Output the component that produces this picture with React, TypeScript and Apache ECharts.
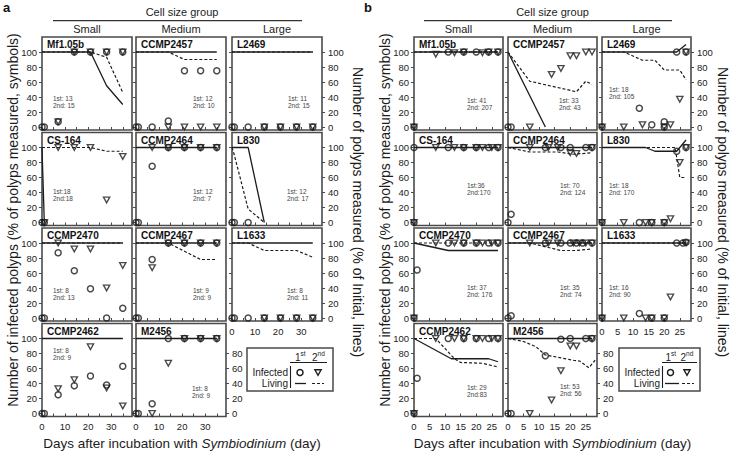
import React, { useEffect, useRef } from 'react';
import * as echarts from 'echarts';

// ---------------- Panel a data (day, %) ----------------
const aMf105bInf1 = [[0, 0], [1, 0], [7, 7], [14, 100], [21, 100], [28, 100], [35, 100]];
const aMf105bInf2 = [[7, 7], [14, 100], [21, 100], [28, 100], [35, 100]];
const aMf105bLiv1 = [[0, 100], [21, 100], [28, 55], [35, 30]];
const aMf105bLiv2 = [[0, 100], [21, 100], [28, 93], [35, 46]];

const aCCMP2457Inf1 = [[0, 0], [1, 0], [7, 0], [14, 8], [21, 75], [28, 75], [35, 75]];
const aCCMP2457Inf2 = [[14, 0], [21, 0], [28, 0], [35, 0]];
const aCCMP2457Liv1 = [[0, 100], [35, 100]];
const aCCMP2457Liv2 = [[0, 100], [14, 100], [21, 90], [35, 90]];

const aL2469Inf1 = [[0, 0], [1, 0], [7, 0], [14, 0], [21, 0], [28, 0], [35, 0]];
const aL2469Inf2 = [[14, 0], [21, 0], [28, 0], [35, 0]];
const aL2469Liv1 = [[0, 100], [35, 100]];
const aL2469Liv2 = [[0, 100], [35, 100]];

const aCS164Inf1 = [[0, 0], [1, 0]];
const aCS164Inf2 = [[1, 0], [7, 100], [14, 100], [21, 100], [28, 30], [35, 88]];
const aCS164Liv1 = [[0, 100], [1, 0]];
const aCS164Liv2 = [[0, 100], [21, 100], [28, 95], [35, 95]];

const aCCMP2464Inf1 = [[0, 0], [1, 0], [7, 75], [14, 100], [21, 100], [28, 100], [35, 100]];
const aCCMP2464Inf2 = [[7, 100], [14, 100], [21, 100], [28, 100], [35, 100]];
const aCCMP2464Liv1 = [[0, 100], [35, 100]];
const aCCMP2464Liv2 = [[0, 100], [35, 100]];

const aL830Inf1 = [[0, 0], [1, 0], [7, 0]];
const aL830Inf2: number[][] = [];
const aL830Liv1 = [[0, 100], [7, 100], [14, 0]];
const aL830Liv2 = [[0, 100], [1, 90], [7, 18], [14, 0]];

const aCCMP2470Inf1 = [[0, 0], [1, 0], [7, 87], [14, 63], [21, 39], [28, 0], [35, 13]];
const aCCMP2470Inf2 = [[7, 100], [14, 92], [21, 92], [28, 40], [35, 70]];
const aCCMP2470Liv1 = [[0, 100], [35, 100]];
const aCCMP2470Liv2 = [[0, 100], [35, 100]];

const aCCMP2467Inf1 = [[0, 0], [1, 0], [7, 78], [14, 100], [21, 100], [28, 100], [35, 100]];
const aCCMP2467Inf2 = [[7, 67], [14, 100], [21, 100], [28, 100], [35, 100]];
const aCCMP2467Liv1 = [[0, 100], [35, 100]];
const aCCMP2467Liv2 = [[0, 100], [14, 100], [28, 78], [35, 78]];

const aL1633Inf1 = [[0, 0], [1, 0], [7, 0], [14, 0], [21, 0], [28, 0], [35, 0]];
const aL1633Inf2 = [[14, 0], [21, 0], [28, 0], [35, 0]];
const aL1633Liv1 = [[0, 100], [35, 100]];
const aL1633Liv2 = [[0, 100], [7, 100], [14, 90], [28, 90], [35, 81]];

const aCCMP2462Inf1 = [[0, 0], [1, 0], [7, 25], [14, 37], [21, 50], [28, 38], [35, 63]];
const aCCMP2462Inf2 = [[7, 33], [14, 45], [21, 89], [28, 34], [35, 10]];
const aCCMP2462Liv1 = [[0, 100], [35, 100]];
const aCCMP2462Liv2 = [[0, 100], [35, 100]];

const aM2456Inf1 = [[0, 0], [1, 0], [7, 13], [14, 100], [21, 100], [28, 100], [35, 100]];
const aM2456Inf2 = [[7, 0], [14, 67], [21, 100], [28, 100], [35, 100]];
const aM2456Liv1 = [[0, 100], [35, 100]];
const aM2456Liv2 = [[0, 100], [35, 100]];

// ---------------- Panel b data (day, %) ----------------
const bMf105bInf1 = [[0, 0], [11, 100], [16, 100], [20, 100], [24, 100], [27, 100]];
const bMf105bInf2 = [[0, 0], [7, 97], [13, 99], [16, 100], [22, 99], [24, 100], [27, 100]];
const bMf105bLiv1 = [[0, 100], [27, 100]];
const bMf105bLiv2 = [[0, 100], [27, 100]];

const bCCMP2457Inf1 = [[0, 0], [1, 0]];
const bCCMP2457Inf2 = [[7, 0], [14, 70], [17, 78], [20, 95], [22, 95], [25, 100], [27, 100]];
const bCCMP2457Liv1 = [[0, 100], [12, 0]];
const bCCMP2457Liv2 = [[0, 100], [7, 61], [22, 47], [25, 61], [27, 57]];

const bL2469Inf1 = [[0, 0], [12, 25], [16, 3], [20, 7], [20, 0], [24, 100], [27, 100]];
const bL2469Inf2 = [[0, 0], [7, 0], [13, 3], [20, 0], [22, 3], [25, 37], [27, 100]];
const bL2469Liv1 = [[0, 100], [24, 100], [27, 110]];
const bL2469Liv2 = [[0, 100], [7, 100], [13, 89], [17, 89], [20, 76], [25, 76], [27, 63]];

const bCS164Inf1 = [[0, 0], [0, 100], [11, 100], [16, 100], [20, 100], [24, 100], [27, 100]];
const bCS164Inf2 = [[0, 0], [7, 100], [13, 100], [16, 100], [20, 100], [22, 100], [25, 100], [27, 100]];
const bCS164Liv1 = [[0, 100], [27, 100]];
const bCS164Liv2 = [[0, 100], [27, 100]];

const bCCMP2464Inf1 = [[0, 0], [1, 11], [12, 100], [17, 100], [20, 100], [25, 100], [27, 100]];
const bCCMP2464Inf2 = [[7, 100], [13, 100], [16, 100], [20, 93], [22, 92], [27, 100]];
const bCCMP2464Liv1 = [[0, 100], [27, 100]];
const bCCMP2464Liv2 = [[0, 100], [7, 94], [16, 94], [21, 91], [27, 93]];

const bL830Inf1 = [[0, 0], [12, 0], [16, 0], [20, 0], [24, 95], [27, 100]];
const bL830Inf2 = [[0, 0], [7, 0], [14, 0], [16, 0], [20, 0], [22, 5], [25, 80], [27, 100]];
const bL830Liv1 = [[0, 100], [14, 100], [17, 95], [24, 95], [27, 110]];
const bL830Liv2 = [[0, 100], [23.5, 100], [25, 60], [27, 60]];

const bCCMP2470Inf1 = [[0, 0], [1, 64], [11, 100], [16, 100], [20, 100], [24, 100], [27, 100]];
const bCCMP2470Inf2 = [[0, 0], [7, 100], [13, 100], [16, 100], [20, 100], [22, 100], [25, 100], [27, 100]];
const bCCMP2470Liv1 = [[0, 100], [11, 90], [27, 90]];
const bCCMP2470Liv2 = [[0, 100], [27, 100]];

const bCCMP2467Inf1 = [[0, 0], [1, 3], [12, 100], [17, 100], [20, 100], [22, 100], [24, 100], [27, 100]];
const bCCMP2467Inf2 = [[7, 100], [13, 100], [16, 100], [21, 100], [23, 100], [25, 100], [27, 100]];
const bCCMP2467Liv1 = [[0, 100], [27, 100]];
const bCCMP2467Liv2 = [[0, 100], [7, 100], [17, 90], [22, 90], [27, 92]];

const bL1633Inf1 = [[0, 0], [12, 6], [16, 0], [20, 0], [24, 100], [26, 100], [27, 101]];
const bL1633Inf2 = [[0, 0], [7, 0], [14, 0], [16, 0], [20, 0], [22, 28], [27, 100]];
const bL1633Liv1 = [[0, 100], [27, 100]];
const bL1633Liv2 = [[0, 100], [27, 100]];

const bCCMP2462Inf1 = [[0, 0], [1, 47], [11, 100], [16, 100], [20, 100], [24, 100], [27, 100]];
const bCCMP2462Inf2 = [[0, 0], [7, 100], [13, 100], [16, 100], [20, 100], [22, 100], [25, 100], [27, 100]];
const bCCMP2462Liv1 = [[0, 100], [12, 73], [24, 73], [27, 69]];
const bCCMP2462Liv2 = [[0, 100], [7, 100], [13, 73], [15, 68], [22, 67], [27, 62]];

const bM2456Inf1 = [[0, 0], [1, 0], [12, 77], [17, 99], [20, 100], [25, 100], [27, 100]];
const bM2456Inf2 = [[7, 0], [14, 18], [17, 57], [20, 90], [22, 90], [27, 100]];
const bM2456Liv1 = [[0, 100], [27, 100]];
const bM2456Liv2 = [[0, 100], [5, 96], [9, 89], [12, 78], [16, 75], [21, 71], [23, 70], [26, 61], [28, 71]];

// ---------------- Labels ----------------
const yTickValues = [0, 20, 40, 60, 80, 100];
const yTickValuesLow = [0, 20, 40, 60, 80];
const aXTicks = [0, 5, 10, 15, 20, 25, 30, 35];
const aXLabels = [0, 10, 20, 30];
const bXTicks = [0, 5, 10, 15, 20, 25];
const bXLabels = [0, 5, 10, 15, 20, 25];
const sizeGroups = ['Small', 'Medium', 'Large'];

const panelA = [
  { name: 'Mf1.05b', n: '1st: 13\n2nd: 15', inf1: aMf105bInf1, inf2: aMf105bInf2, liv1: aMf105bLiv1, liv2: aMf105bLiv2 },
  { name: 'CCMP2457', n: '1st: 12\n2nd: 10', inf1: aCCMP2457Inf1, inf2: aCCMP2457Inf2, liv1: aCCMP2457Liv1, liv2: aCCMP2457Liv2 },
  { name: 'L2469', n: '1st: 11\n2nd: 15', inf1: aL2469Inf1, inf2: aL2469Inf2, liv1: aL2469Liv1, liv2: aL2469Liv2 },
  { name: 'CS-164', n: '1st:18\n2nd:18', inf1: aCS164Inf1, inf2: aCS164Inf2, liv1: aCS164Liv1, liv2: aCS164Liv2 },
  { name: 'CCMP2464', n: '1st: 12\n2nd: 7', inf1: aCCMP2464Inf1, inf2: aCCMP2464Inf2, liv1: aCCMP2464Liv1, liv2: aCCMP2464Liv2 },
  { name: 'L830', n: '1st: 12\n2nd: 17', inf1: aL830Inf1, inf2: aL830Inf2, liv1: aL830Liv1, liv2: aL830Liv2 },
  { name: 'CCMP2470', n: '1st: 8\n2nd: 13', inf1: aCCMP2470Inf1, inf2: aCCMP2470Inf2, liv1: aCCMP2470Liv1, liv2: aCCMP2470Liv2 },
  { name: 'CCMP2467', n: '1st: 9\n2nd: 9', inf1: aCCMP2467Inf1, inf2: aCCMP2467Inf2, liv1: aCCMP2467Liv1, liv2: aCCMP2467Liv2 },
  { name: 'L1633', n: '1st: 8\n2nd: 11', inf1: aL1633Inf1, inf2: aL1633Inf2, liv1: aL1633Liv1, liv2: aL1633Liv2 },
  { name: 'CCMP2462', n: '1st: 8\n2nd: 9', inf1: aCCMP2462Inf1, inf2: aCCMP2462Inf2, liv1: aCCMP2462Liv1, liv2: aCCMP2462Liv2 },
  { name: 'M2456', n: '1st: 8\n2nd: 9', inf1: aM2456Inf1, inf2: aM2456Inf2, liv1: aM2456Liv1, liv2: aM2456Liv2 },
];

const panelB = [
  { name: 'Mf1.05b', n: '1st: 41\n2nd: 207', inf1: bMf105bInf1, inf2: bMf105bInf2, liv1: bMf105bLiv1, liv2: bMf105bLiv2 },
  { name: 'CCMP2457', n: '1st: 33\n2nd: 43', inf1: bCCMP2457Inf1, inf2: bCCMP2457Inf2, liv1: bCCMP2457Liv1, liv2: bCCMP2457Liv2 },
  { name: 'L2469', n: '1st: 18\n2nd: 105', inf1: bL2469Inf1, inf2: bL2469Inf2, liv1: bL2469Liv1, liv2: bL2469Liv2 },
  { name: 'CS-164', n: '1st:36\n2nd:170', inf1: bCS164Inf1, inf2: bCS164Inf2, liv1: bCS164Liv1, liv2: bCS164Liv2 },
  { name: 'CCMP2464', n: '1st: 70\n2nd: 124', inf1: bCCMP2464Inf1, inf2: bCCMP2464Inf2, liv1: bCCMP2464Liv1, liv2: bCCMP2464Liv2 },
  { name: 'L830', n: '1st: 18\n2nd: 170', inf1: bL830Inf1, inf2: bL830Inf2, liv1: bL830Liv1, liv2: bL830Liv2 },
  { name: 'CCMP2470', n: '1st: 37\n2nd: 176', inf1: bCCMP2470Inf1, inf2: bCCMP2470Inf2, liv1: bCCMP2470Liv1, liv2: bCCMP2470Liv2 },
  { name: 'CCMP2467', n: '1st: 35\n2nd: 74', inf1: bCCMP2467Inf1, inf2: bCCMP2467Inf2, liv1: bCCMP2467Liv1, liv2: bCCMP2467Liv2 },
  { name: 'L1633', n: '1st: 16\n2nd: 90', inf1: bL1633Inf1, inf2: bL1633Inf2, liv1: bL1633Liv1, liv2: bL1633Liv2 },
  { name: 'CCMP2462', n: '1st: 29\n2nd:83', inf1: bCCMP2462Inf1, inf2: bCCMP2462Inf2, liv1: bCCMP2462Liv1, liv2: bCCMP2462Liv2 },
  { name: 'M2456', n: '1st: 53\n2nd: 56', inf1: bM2456Inf1, inf2: bM2456Inf2, liv1: bM2456Liv1, liv2: bM2456Liv2 },
];

// ---------------- Layout ----------------
const FONT = '"Liberation Sans", Arial, Helvetica, sans-serif';
const INK = '#1c1c1c';
const BOX = '#4a4a4a';
const ROW_TOP = [37, 132.5, 228, 323.5];
const BOX_H = 93;
const Y_MIN = -4;
const Y_MAX = 120;

const PANELS = [
  {
    data: panelA, cols: [42, 136, 232], w: 90, xMax: 39, xTicks: aXTicks, xLabels: aXLabels,
    cnt: [[11, 65], [57, 65], [56, 65], [11, 62.5], [57, 62.5], [55, 62.5], [11, 66], [57, 66], [55, 66], [11, 30.5], [56, 68.5]],
    letter: 'a', letterX: 3, leftTitleX: 13, rightTitleX: 358, headerLine: [53, 302],
    legend: { x: 247, w: 86, bar: 290.5, c1: 300, c2: 318, l1: [295, 306], l2: [312, 324], h1: 295, h2: 312, hl: [290, 327] },
  },
  {
    data: panelB, cols: [414, 508, 602], w: 89, xMax: 28.6, xTicks: bXTicks, xLabels: bXLabels,
    cnt: [[53, 66.7], [51, 66.7], [7, 56], [53, 56.5], [52, 56.5], [7, 56.5], [53, 63], [52, 63], [7, 63], [53, 67], [52, 66.5]],
    letter: 'b', letterX: 364, leftTitleX: 385, rightTitleX: 723, headerLine: [424, 672],
    legend: { x: 619, w: 81, bar: 662.5, c1: 670.5, c2: 687, l1: [665, 679], l2: [682, 694], h1: 665.5, h2: 680.5, hl: [662, 697] },
  },
];

function buildOption() {
  const grid: any[] = [];
  const xAxis: any[] = [];
  const yAxis: any[] = [];
  const series: any[] = [];
  const graphic: any[] = [];

  const txt = (x: number, y: number, text: string, extra: any = {}, rotation = 0) => ({
    type: 'text', x, y, rotation, silent: true,
    style: {
      text, fontFamily: FONT, fontSize: 11, fill: INK,
      align: 'center', textAlign: 'center', verticalAlign: 'middle', textVerticalAlign: 'middle',
      ...extra,
    },
  });

  PANELS.forEach((P) => {
    const headerCenter = (P.cols[0] + P.cols[2] + P.w) / 2;
    graphic.push(txt(P.letterX, 1, P.letter, { fontSize: 13, fontWeight: 'bold', align: 'left', textAlign: 'left', verticalAlign: 'top', textVerticalAlign: 'top', fill: '#111' }));
    graphic.push(txt(headerCenter, 12, 'Cell size group', { fontSize: 11 }));
    graphic.push({ type: 'line', silent: true, shape: { x1: P.headerLine[0], y1: 20.7, x2: P.headerLine[1], y2: 20.7 }, style: { stroke: '#333', lineWidth: 1.2 } });
    sizeGroups.forEach((g, c) => graphic.push(txt(P.cols[c] + P.w / 2, 28.5, g, { fontSize: 11 })));

    P.data.forEach((d, i) => {
      const row = Math.floor(i / 3);
      const col = i % 3;
      const left = P.cols[col];
      const top = ROW_TOP[row];
      const gi = grid.length;
      grid.push({ left, top, width: P.w, height: BOX_H, show: true, borderColor: BOX, borderWidth: 1.6, backgroundColor: 'transparent' });

      const showX = (row === 3) || (row === 2 && col === 2);
      xAxis.push({
        gridIndex: gi, type: 'value', min: 0, max: P.xMax,
        axisLine: { show: false }, splitLine: { show: false },
        axisTick: { show: true, inside: false, length: 3, customValues: P.xTicks, lineStyle: { color: BOX, width: 1 } },
        axisLabel: { show: showX, customValues: P.xLabels, margin: 5, fontSize: 9.5, color: INK, fontFamily: FONT },
      });
      const yl = yAxis.length;
      yAxis.push({
        gridIndex: gi, type: 'value', min: Y_MIN, max: Y_MAX, position: 'left',
        axisLine: { show: false }, splitLine: { show: false },
        axisTick: { show: true, inside: false, length: 3, customValues: yTickValues, lineStyle: { color: BOX, width: 1 } },
        axisLabel: { show: col === 0, customValues: yTickValues, margin: 5, fontSize: 9.5, color: INK, fontFamily: FONT },
      });
      const rightLabels = (col === 2) || (row === 3 && col === 1);
      if (rightLabels) {
        const vals = row === 3 ? yTickValuesLow : yTickValues;
        yAxis.push({
          gridIndex: gi, type: 'value', min: Y_MIN, max: Y_MAX, position: 'right',
          axisLine: { show: false }, splitLine: { show: false },
          axisTick: { show: true, inside: false, length: 3, customValues: vals, lineStyle: { color: BOX, width: 1 } },
          axisLabel: { show: true, customValues: vals, margin: 6, fontSize: 9.5, color: INK, fontFamily: FONT },
        });
      }

      const common = { xAxisIndex: gi, yAxisIndex: yl, clip: false, silent: true, animation: false };
      series.push({ ...common, type: 'line', data: d.liv1, symbol: 'none', z: 2, lineStyle: { color: INK, width: 1.3 } });
      series.push({ ...common, type: 'line', data: d.liv2, symbol: 'none', z: 2, lineStyle: { color: INK, width: 1.2, type: [3, 2] } });
      series.push({ ...common, type: 'scatter', data: d.inf1, symbol: 'circle', symbolSize: 6, z: 3, itemStyle: { color: 'rgba(0,0,0,0)', borderColor: INK, borderWidth: 1.5 } });
      series.push({ ...common, type: 'scatter', data: d.inf2, symbol: 'path://M0,0L10,0L5,9Z', symbolSize: [6.2, 5.6], z: 3, itemStyle: { color: 'rgba(0,0,0,0)', borderColor: INK, borderWidth: 1.4 } });

      graphic.push(txt(left + 5, top + 2.5, d.name, { fontSize: 10, fontWeight: 'bold', align: 'left', textAlign: 'left', verticalAlign: 'top', textVerticalAlign: 'top', fill: '#111' }));
      graphic.push(txt(left + P.cnt[i][0], top + P.cnt[i][1], d.n, { fontSize: 6.5, lineHeight: 7, align: 'left', textAlign: 'left', fill: '#444' }));
    });

    // axis titles
    graphic.push(txt(P.leftTitleX, 220, 'Number of infected polyps (% of polyps measured, symbols)', { fontSize: 14 }, Math.PI / 2));
    graphic.push(txt(P.rightTitleX, 212, 'Number of polyps measured (% of Initial, lines)', { fontSize: 14 }, -Math.PI / 2));
    graphic.push({
      type: 'text', x: headerCenter, y: 443, silent: true,
      style: {
        text: 'Days after incubation with {i|Symbiodinium} (day)', fontFamily: FONT, fontSize: 13.5, fill: INK,
        align: 'center', textAlign: 'center', verticalAlign: 'middle', textVerticalAlign: 'middle',
        rich: { i: { fontStyle: 'italic', fontFamily: FONT, fontSize: 13.5, fill: INK } },
      },
    });

    // legend
    const L = P.legend;
    graphic.push({ type: 'rect', silent: true, shape: { x: L.x, y: 348, width: L.w, height: 43 }, style: { fill: 'none', stroke: BOX, lineWidth: 1.5 } });
    graphic.push(txt(L.h1, 357, '1', { fontSize: 10, align: 'left', textAlign: 'left' }));
    graphic.push(txt(L.h1 + 5.6, 353, 'st', { fontSize: 6.5, align: 'left', textAlign: 'left' }));
    graphic.push(txt(L.h2, 357, '2', { fontSize: 10, align: 'left', textAlign: 'left' }));
    graphic.push(txt(L.h2 + 5.6, 353, 'nd', { fontSize: 6.5, align: 'left', textAlign: 'left' }));
    graphic.push({ type: 'line', silent: true, shape: { x1: L.hl[0], y1: 362.5, x2: L.hl[1], y2: 362.5 }, style: { stroke: INK, lineWidth: 1.1 } });
    graphic.push({ type: 'line', silent: true, shape: { x1: L.bar, y1: 366, x2: L.bar, y2: 388 }, style: { stroke: INK, lineWidth: 1.1 } });
    graphic.push(txt(L.bar - 2.5, 372.5, 'Infected', { fontSize: 10, align: 'right', textAlign: 'right' }));
    graphic.push(txt(L.bar - 2.5, 383.5, 'Living', { fontSize: 10, align: 'right', textAlign: 'right' }));
    graphic.push({ type: 'circle', silent: true, shape: { cx: L.c1, cy: 372.5, r: 3 }, style: { fill: 'none', stroke: INK, lineWidth: 1.5 } });
    graphic.push({ type: 'polygon', silent: true, shape: { points: [[L.c2 - 3.1, 369.8], [L.c2 + 3.1, 369.8], [L.c2, 375.4]] }, style: { fill: 'none', stroke: INK, lineWidth: 1.4 } });
    graphic.push({ type: 'line', silent: true, shape: { x1: L.l1[0], y1: 383.5, x2: L.l1[1], y2: 383.5 }, style: { stroke: INK, lineWidth: 1.3 } });
    graphic.push({ type: 'line', silent: true, shape: { x1: L.l2[0], y1: 383.5, x2: L.l2[1], y2: 383.5 }, style: { stroke: INK, lineWidth: 1.2, lineDash: [3, 2] } });
  });

  return {
    animation: false,
    backgroundColor: '#ffffff',
    textStyle: { fontFamily: FONT },
    grid, xAxis, yAxis, series, graphic,
  };
}

export default function App() {
  const ref = useRef<HTMLDivElement>(null);
  useEffect(() => {
    if (!ref.current) return;
    const chart = echarts.init(ref.current, null, { renderer: 'svg' });
    chart.setOption(buildOption() as any);
    return () => chart.dispose();
  }, []);
  return <div ref={ref} style={{ position: 'absolute', left: 0, top: 0, width: 734, height: 451 }} />;
}
